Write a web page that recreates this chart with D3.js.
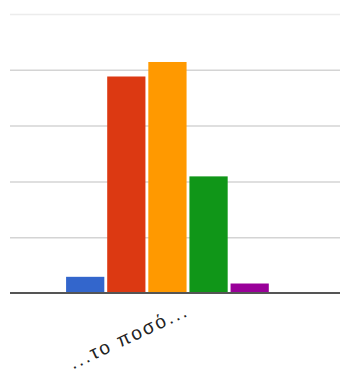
<!DOCTYPE html>
<html>
<head>
<meta charset="utf-8">
<script src="https://cdn.jsdelivr.net/npm/d3@7"></script>
<style>
  body { margin: 0; background: #fff; }
  svg { display: block; }
</style>
</head>
<body>
<div id="chart"></div>
<script>
// DATA
var categories = ['...το ποσό...'];
var seriesNames = ['s1', 's2', 's3', 's4', 's5', 's6'];
var seriesValues = [2.9, 38.8, 41.4, 20.9, 1.7, 0];
var seriesColors = ['#3366cc', '#dc3912', '#ff9900', '#109618', '#990099', '#0099c6'];
var yTicks = [0, 10, 20, 30, 40, 50];

// SETUP
var width = 340, height = 374;
var plot = {left: 10, right: 366, top: 14, bottom: 293};

var svg = d3.select('#chart').append('svg')
    .attr('width', width)
    .attr('height', height);

var x = d3.scaleBand()
    .domain(categories)
    .range([plot.left, plot.right])
    .padding(0.187);

var xs = d3.scaleBand()
    .domain(seriesNames)
    .range([0, x.bandwidth()])
    .paddingInner(0.07);

var y = d3.scaleLinear()
    .domain([0, 50])
    .range([plot.bottom, plot.top]);

// gridlines
svg.append('g')
  .selectAll('line')
  .data(yTicks.slice(1))
  .enter().append('line')
    .attr('x1', plot.left).attr('x2', width)
    .attr('y1', function(d) { return y(d) + 0.5; })
    .attr('y2', function(d) { return y(d) + 0.5; })
    .attr('stroke', function(d, i) { return i == yTicks.length - 2 ? '#ececec' : '#d4d4d4'; })
    .attr('stroke-width', 1.5);

// bars
categories.forEach(function(cat) {
  svg.append('g')
    .attr('transform', 'translate(' + x(cat) + ',0)')
    .selectAll('rect')
    .data(seriesValues)
    .enter().append('rect')
      .attr('x', function(d, i) { return xs(seriesNames[i]); })
      .attr('width', xs.bandwidth())
      .attr('y', function(d) { return y(d); })
      .attr('height', function(d) { return y(0) - y(d); })
      .attr('fill', function(d, i) { return seriesColors[i]; });
});

// baseline
svg.append('line')
    .attr('x1', plot.left).attr('x2', width)
    .attr('y1', y(0)).attr('y2', y(0))
    .attr('stroke', '#555')
    .attr('stroke-width', 2);

// category label, rotated
svg.append('g')
  .selectAll('text')
  .data(categories)
  .enter().append('text')
    .attr('transform', function(d) {
      return 'translate(' + (x(d) + x.bandwidth() / 2 + 2) + ',' + (y(0) + 22) + ') rotate(-25)';
    })
    .attr('text-anchor', 'end')
    .attr('font-family', 'Arial, "Liberation Sans", sans-serif')
    .attr('font-size', 19)
    .attr('letter-spacing', 2.2)
    .attr('fill', '#222')
    .text(function(d) { return d; });
</script>
</body>
</html>
